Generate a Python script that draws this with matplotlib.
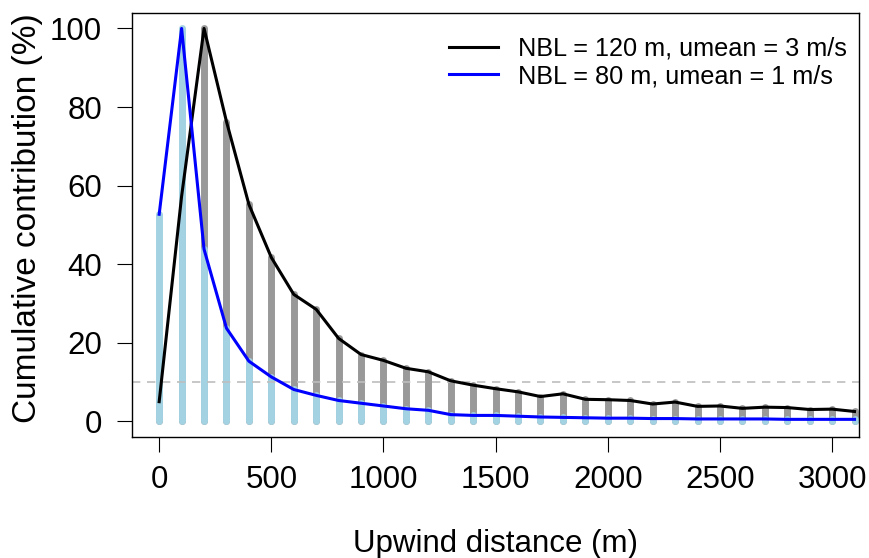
import matplotlib.pyplot as plt
import numpy as np

plt.rcParams['font.family'] = ['Liberation Sans', 'DejaVu Sans']

# upwind distance (m) and cumulative contribution (%)
dist = np.arange(0, 3200, 100)
nbl120 = [5, 57.3, 100, 76.3, 55.2, 41.7, 32.3, 28.5, 21.1, 17.0, 15.5, 13.5,
          12.6, 10.3, 9.2, 8.3, 7.5, 6.3, 7.0, 5.6, 5.5, 5.3, 4.4, 4.9,
          3.8, 3.9, 3.3, 3.6, 3.5, 3.0, 3.1, 2.5]
nbl80 = [52.7, 100, 43.8, 23.7, 15.3, 11.3, 8.1, 6.6, 5.3, 4.6, 3.9, 3.2,
         2.8, 1.7, 1.5, 1.5, 1.3, 1.1, 1.0, 0.9, 0.8, 0.8, 0.7, 0.7,
         0.6, 0.6, 0.6, 0.6, 0.5, 0.5, 0.5, 0.5]
labels = ['NBL = 120 m, umean = 3 m/s', 'NBL = 80 m, umean = 1 m/s']

fig = plt.figure(figsize=(8.69, 5.58), dpi=100)
ax = fig.add_axes([0.1522, 0.2168, 0.8363, 0.7604])

# histogram-like bars
b1 = ax.vlines(dist, 0, nbl120, color='#999999', lw=5)
b1.set_capstyle('round')
b2 = ax.vlines(dist, 0, nbl80, color='#A3D2E2', lw=5)
b2.set_capstyle('round')

ax.axhline(10, color='#BEBEBE', lw=1.2, ls=(0, (5, 4)))

ax.plot(dist, nbl120, color='black', lw=2.2, label=labels[0])
ax.plot(dist, nbl80, color='blue', lw=2.2, label=labels[1])

ax.set_xlim(-120, 3120)
ax.set_ylim(-4, 104)
ax.set_xticks(np.arange(0, 3001, 500))
ax.set_yticks(np.arange(0, 101, 20))
ax.tick_params(labelsize=22.5, length=10.8, width=0.8)
ax.tick_params(axis='y', pad=11)
ax.tick_params(axis='x', pad=9)
for s in ax.spines.values():
    s.set_linewidth(1.0)

ax.set_xlabel('Upwind distance (m)', fontsize=22.5, labelpad=24.5)
ax.set_ylabel('Cumulative contribution (%)', fontsize=24)
ax.yaxis.set_label_coords(-0.123, 0.516)

ax.legend(loc='upper right', frameon=False, fontsize=18.2, handlelength=1.95,
          handletextpad=0.8, labelspacing=0.14, borderpad=0, borderaxespad=0,
          bbox_to_anchor=(0.9747, 0.9346), bbox_transform=fig.transFigure)

plt.savefig('out.png', dpi=100)
